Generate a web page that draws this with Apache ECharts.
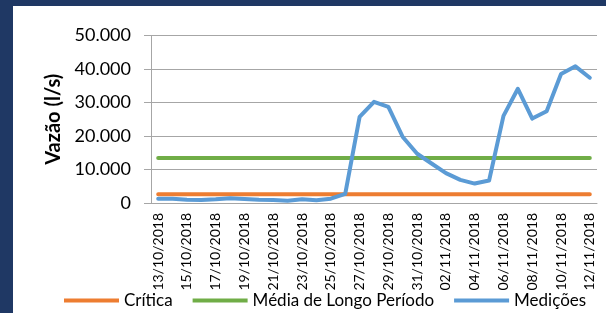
<!DOCTYPE html>
<html>
  <head>
    <meta charset="utf-8" />
    <script src="https://cdn.jsdelivr.net/npm/echarts@6/dist/echarts.min.js"></script>
    <style>
      html, body { margin: 0; padding: 0; background: #1f3864; }
      #main { position: absolute; left: 13px; top: 6px; width: 593px; height: 307px; background: #fff; }
    </style>
  </head>

  <body>
    <div id="main"></div>
    <script type="text/javascript">
      // dates on the x axis
      var datas = [
        '13/10/2018', '14/10/2018', '15/10/2018', '16/10/2018', '17/10/2018', '18/10/2018',
        '19/10/2018', '20/10/2018', '21/10/2018', '22/10/2018', '23/10/2018', '24/10/2018',
        '25/10/2018', '26/10/2018', '27/10/2018', '28/10/2018', '29/10/2018', '30/10/2018',
        '31/10/2018', '01/11/2018', '02/11/2018', '03/11/2018', '04/11/2018', '05/11/2018',
        '06/11/2018', '07/11/2018', '08/11/2018', '09/11/2018', '10/11/2018', '11/11/2018',
        '12/11/2018'
      ];

      var critica = [
        2600, 2600, 2600, 2600, 2600, 2600, 2600, 2600, 2600, 2600, 2600, 2600, 2600, 2600, 2600, 2600,
        2600, 2600, 2600, 2600, 2600, 2600, 2600, 2600, 2600, 2600, 2600, 2600, 2600, 2600, 2600
      ];

      var mediaLongoPeriodo = [
        13400, 13400, 13400, 13400, 13400, 13400, 13400, 13400, 13400, 13400, 13400, 13400, 13400, 13400, 13400, 13400,
        13400, 13400, 13400, 13400, 13400, 13400, 13400, 13400, 13400, 13400, 13400, 13400, 13400, 13400, 13400
      ];

      var medicoes = [
        1300, 1300, 1000, 900, 1100, 1400, 1200, 1000, 900, 700, 1100, 800, 1300, 2700,
        25700, 30200, 28700, 19700, 14700, 11800, 8900, 6900, 5800, 6700,
        26000, 34100, 25200, 27400, 38500, 40800, 37400
      ];

      var yTicks = { min: 0, max: 50000, interval: 10000 };

      var myChart = echarts.init(document.getElementById('main'));

      var fonte = 'Lato, "Open Sans", sans-serif';

      var option = {
        animation: false,
        textStyle: { fontFamily: fonte, color: '#000' },
        grid: { left: 138, right: 9, top: 29.5, bottom: 110 },
        legend: {
          left: 46,
          bottom: -1,
          icon: 'rect',
          itemWidth: 55,
          itemHeight: 4,
          itemGap: 20,
          textStyle: { fontFamily: fonte, fontSize: 17, color: '#000' },
          data: ['Crítica', 'Média de Longo Período', 'Medições']
        },
        xAxis: {
          type: 'category',
          data: datas,
          boundaryGap: true,
          axisLine: { lineStyle: { color: '#a6a6a6', width: 1 } },
          axisTick: { interval: 1, length: 6, lineStyle: { color: '#a6a6a6' } },
          axisLabel: { interval: 1, rotate: 90, margin: 10, fontSize: 14, color: '#000', fontFamily: fonte }
        },
        yAxis: {
          type: 'value',
          min: yTicks.min,
          max: yTicks.max,
          interval: yTicks.interval,
          name: 'Vazão (l/s)',
          nameLocation: 'middle',
          nameGap: 82,
          nameTextStyle: { fontSize: 20, fontWeight: 'bold', color: '#000', fontFamily: fonte },
          axisLine: { show: true, lineStyle: { color: '#a6a6a6' } },
          axisTick: { show: true, length: 7, lineStyle: { color: '#a6a6a6' } },
          axisLabel: {
            margin: 20,
            fontSize: 18,
            color: '#000',
            fontFamily: fonte,
            formatter: function (v) {
              return v === 0 ? '0' : (v / 1000).toFixed(0) + '.000';
            }
          },
          splitLine: { lineStyle: { color: '#a6a6a6', width: 1 } }
        },
        series: [
          {
            name: 'Crítica',
            type: 'line',
            data: critica,
            symbol: 'none',
            itemStyle: { color: '#ed7d31' },
            lineStyle: { color: '#ed7d31', width: 4, cap: 'round' }
          },
          {
            name: 'Média de Longo Período',
            type: 'line',
            data: mediaLongoPeriodo,
            symbol: 'none',
            itemStyle: { color: '#70ad47' },
            lineStyle: { color: '#70ad47', width: 4, cap: 'round' }
          },
          {
            name: 'Medições',
            type: 'line',
            data: medicoes,
            symbol: 'none',
            itemStyle: { color: '#5b9bd5' },
            lineStyle: { color: '#5b9bd5', width: 4, cap: 'round', join: 'round' }
          }
        ]
      };

      myChart.setOption(option);
    </script>
  </body>

</html>
